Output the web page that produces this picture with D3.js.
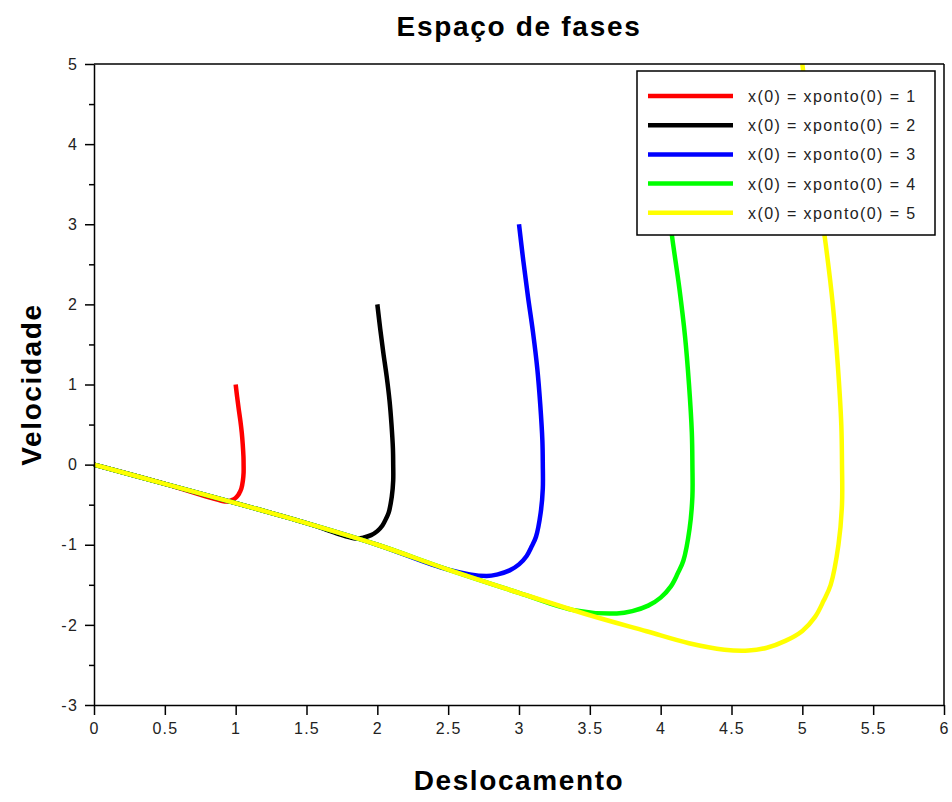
<!DOCTYPE html>
<html>
<head>
<meta charset="utf-8">
<script src="https://cdn.jsdelivr.net/npm/d3@7/dist/d3.min.js"></script>
<style>
  body { margin: 0; background: #fff; }
  text { font-family: "Liberation Sans", Arial, sans-serif; }
</style>
</head>
<body>
<div id="chart"></div>
<script>
var xTicks = [0, 0.5, 1, 1.5, 2, 2.5, 3, 3.5, 4, 4.5, 5, 5.5, 6];
var yTicks = [-3, -2, -1, 0, 1, 2, 3, 4, 5];
var yMinor = [-2.5, -1.5, -0.5, 0.5, 1.5, 2.5, 3.5, 4.5];

var legendLabels = [
  "x(0) = xponto(0) = 1",
  "x(0) = xponto(0) = 2",
  "x(0) = xponto(0) = 3",
  "x(0) = xponto(0) = 4",
  "x(0) = xponto(0) = 5"
];
var colors = ["#ff0000", "#000000", "#0000ff", "#00ff00", "#ffff00"];

// [deslocamento, velocidade]
var curve1 = [[1, 1], [1.01, 0.85], [1.021, 0.7], [1.033, 0.55], [1.043, 0.4], [1.05, 0.25],
  [1.055, 0.1], [1.056, 0], [1.056, -0.1], [1.051, -0.2], [1.04, -0.3], [1.03, -0.34],
  [1.018, -0.38], [1.0, -0.415], [0.978, -0.44], [0.95, -0.457], [0.925, -0.46],
  [0.5, -0.24], [0, 0]];
var curve2 = [[2, 2], [2.02, 1.7], [2.042, 1.4], [2.066, 1.1], [2.086, 0.8], [2.1, 0.5],
  [2.11, 0.2], [2.112, 0], [2.112, -0.2], [2.102, -0.4], [2.08, -0.6], [2.06, -0.68],
  [2.036, -0.76], [2.0, -0.83], [1.956, -0.88], [1.9, -0.912], [1.845, -0.922],
  [1.5, -0.73], [1, -0.48], [0.5, -0.24], [0, 0]];
var curve3 = [[3, 3], [3.03, 2.55], [3.063, 2.1], [3.099, 1.65], [3.129, 1.2], [3.15, 0.75],
  [3.165, 0.3], [3.168, 0], [3.168, -0.3], [3.153, -0.6], [3.12, -0.9], [3.09, -1.02],
  [3.054, -1.14], [3.0, -1.245], [2.934, -1.32], [2.85, -1.37], [2.77, -1.39],
  [2.5, -1.31], [2, -1], [1.5, -0.73], [1, -0.48], [0.5, -0.24], [0, 0]];
var curve4 = [[4, 4], [4.04, 3.4], [4.084, 2.8], [4.132, 2.2], [4.172, 1.6], [4.2, 1.0],
  [4.22, 0.4], [4.224, 0], [4.224, -0.4], [4.204, -0.8], [4.16, -1.2], [4.12, -1.36],
  [4.072, -1.52], [4.0, -1.66], [3.912, -1.76], [3.8, -1.828], [3.69, -1.857],
  [3.4, -1.82], [3, -1.6], [2.5, -1.31], [2, -1], [1.5, -0.73], [1, -0.48], [0.5, -0.24], [0, 0]];
var curve5 = [[5, 5], [5.05, 4.25], [5.105, 3.5], [5.165, 2.75], [5.215, 2.0], [5.25, 1.25],
  [5.275, 0.5], [5.28, 0], [5.28, -0.5], [5.255, -1.0], [5.2, -1.5], [5.15, -1.7],
  [5.09, -1.9], [5.0, -2.075], [4.88, -2.2], [4.75, -2.285], [4.62, -2.32], [4.45, -2.31],
  [4.2, -2.23], [3.9, -2.08], [3.5, -1.88], [3, -1.6], [2.5, -1.31], [2, -1], [1.5, -0.73],
  [1, -0.48], [0.5, -0.24], [0, 0]];
var curves = [curve1, curve2, curve3, curve4, curve5];

var width = 952, height = 802;
var plotLeft = 94, plotTop = 64, plotRight = 944, plotBottom = 705;

var svg = d3.select("#chart").append("svg")
  .attr("width", width)
  .attr("height", height);

var x = d3.scaleLinear().domain([0, 6]).range([plotLeft, plotRight]);
var y = d3.scaleLinear().domain([-3, 5]).range([plotBottom, plotTop]);

var line = d3.line()
  .x(function(d) { return x(d[0]); })
  .y(function(d) { return y(d[1]); })
  .curve(d3.curveCatmullRom.alpha(0.5));

curves.forEach(function(c, i) {
  svg.append("path")
    .datum(c)
    .attr("fill", "none")
    .attr("stroke", colors[i])
    .attr("stroke-width", 4.5)
    .attr("d", line);
});

// axes
svg.append("g")
  .attr("transform", "translate(0," + plotBottom + ")")
  .call(d3.axisBottom(x).tickValues(xTicks).tickSize(10).tickSizeOuter(0).tickPadding(8)
    .tickFormat(function(d) { return String(d); }));
svg.append("g")
  .attr("transform", "translate(" + plotLeft + ",0)")
  .call(d3.axisLeft(y).tickValues(yTicks).tickSize(9).tickSizeOuter(0).tickPadding(7)
    .tickFormat(function(d) { return String(d); }));
svg.append("g")
  .attr("transform", "translate(" + plotLeft + ",0)")
  .call(d3.axisLeft(y).tickValues(yMinor).tickSize(5).tickSizeOuter(0).tickFormat(""))
  .select(".domain").remove();

svg.selectAll(".tick line, .domain").attr("stroke", "#000").attr("stroke-width", 1.5);
svg.selectAll(".tick text")
  .attr("fill", "#222")
  .style("font-size", "16px")
  .style("letter-spacing", "1.2px");

// top and right frame
svg.append("line").attr("x1", x(0)).attr("x2", x(6)).attr("y1", y(5)).attr("y2", y(5))
  .attr("stroke", "#000").attr("stroke-width", 1.5);
svg.append("line").attr("x1", x(6)).attr("x2", x(6)).attr("y1", y(5)).attr("y2", y(-3))
  .attr("stroke", "#000").attr("stroke-width", 1.5);

// legend
var lg = svg.append("g").attr("transform", "translate(637,71)");
lg.append("rect")
  .attr("width", 298).attr("height", 164)
  .attr("fill", "#fff").attr("stroke", "#000").attr("stroke-width", 1.5);
legendLabels.forEach(function(t, i) {
  var yy = 25 + i * 29.2;
  lg.append("line").attr("x1", 11).attr("x2", 96).attr("y1", yy).attr("y2", yy)
    .attr("stroke", colors[i]).attr("stroke-width", 4.5);
  lg.append("text").attr("x", 111).attr("y", yy + 6)
    .attr("fill", "#222")
    .style("font-size", "16px")
    .style("letter-spacing", "1.4px")
    .text(t);
});

// titles
svg.append("text")
  .attr("x", (plotLeft + plotRight) / 2).attr("y", 36)
  .attr("text-anchor", "middle")
  .style("font-size", "28px").style("font-weight", "bold").style("letter-spacing", "1.7px")
  .text("Espaço de fases");
svg.append("text")
  .attr("x", (plotLeft + plotRight) / 2).attr("y", 790)
  .attr("text-anchor", "middle")
  .style("font-size", "28px").style("font-weight", "bold").style("letter-spacing", "1.6px")
  .text("Deslocamento");
svg.append("text")
  .attr("transform", "translate(41," + (plotTop + plotBottom) / 2 + ") rotate(-90)")
  .attr("text-anchor", "middle")
  .style("font-size", "28px").style("font-weight", "bold").style("letter-spacing", "1.6px")
  .text("Velocidade");
</script>
</body>
</html>
